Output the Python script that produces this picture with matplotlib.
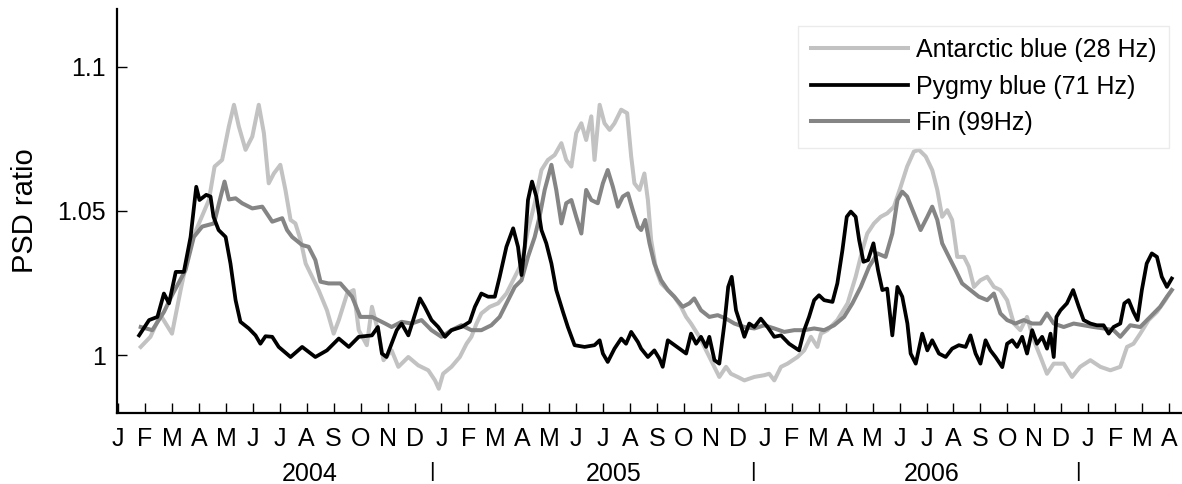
import matplotlib
matplotlib.use("Agg")
import matplotlib.pyplot as plt
from matplotlib.transforms import blended_transform_factory

plt.rcParams['font.family'] = ['Liberation Sans', 'DejaVu Sans']

# x = months since Jan 2004 (0 = Jan 2004 tick)
antarctic_m = [0.84, 1.2, 1.57, 2.0, 2.32, 2.69, 3.0, 3.37, 3.58, 3.86,
               4.11, 4.30, 4.48, 4.73, 4.98, 5.22, 5.41, 5.59, 5.78, 6.02,
               6.21, 6.40, 6.58, 6.77, 6.96, 7.2, 7.44, 7.75, 8.0, 8.19,
               8.5, 8.74, 8.93, 9.23, 9.42, 9.67, 9.85,
               10.15, 10.4, 10.77, 11.14, 11.51, 11.76, 11.9, 12.06, 12.37, 12.68,
               12.93, 13.11, 13.3, 13.48, 13.79, 14.1, 14.41, 14.72, 14.97, 15.21,
               15.46, 15.71, 15.95, 16.2, 16.45, 16.63, 16.82, 17.0, 17.19, 17.37,
               17.56, 17.68, 17.87, 18.05, 18.24, 18.42, 18.67, 18.89, 19.04, 19.16,
               19.35,
               19.53, 19.66, 19.78, 19.97, 20.15, 20.4, 20.64, 20.89, 21.08, 21.26,
               21.57, 21.88, 22.13, 22.31, 22.56, 22.74, 22.99, 23.24, 23.61, 23.98,
               24.16, 24.35, 24.6, 24.84, 25.21, 25.46, 25.71, 25.95, 26.08, 26.32,
               26.69, 27.07, 27.37, 27.62, 27.8, 28.05, 28.3, 28.54, 28.79, 29.04,
               29.28, 29.53, 29.72, 29.97, 30.21, 30.4, 30.58, 30.77, 30.95, 31.14,
               31.39, 31.57, 31.76, 32.0, 32.25, 32.5, 32.74, 32.99, 33.24, 33.48,
               33.73, 33.98, 34.23, 34.47, 34.72, 35.09, 35.4, 35.7, 36.08, 36.45,
               36.82, 37.19, 37.44, 37.68, 37.93, 38.24, 38.55, 38.86, 39.1]
antarctic_v = [1.0029, 1.0064, 1.014, 1.0075, 1.0226, 1.0388, 1.0457, 1.0538, 1.0654, 1.0677,
               1.0793, 1.0868, 1.0793, 1.0712, 1.0758, 1.0868, 1.077, 1.0596, 1.063, 1.066,
               1.0573, 1.0469, 1.0457, 1.040, 1.0318, 1.0272, 1.0226, 1.0156, 1.0075, 1.0122,
               1.0214, 1.0226, 1.0087, 1.0035, 1.0168, 1.0075, 0.9983,
               1.0017, 0.996, 0.9994, 0.9965, 0.9948, 0.9913, 0.9884, 0.9936, 0.996, 0.9994,
               1.004, 1.0064, 1.011, 1.0145, 1.0168, 1.018, 1.0214, 1.0272, 1.0318, 1.0434,
               1.0527, 1.0642, 1.0677, 1.0694, 1.0735, 1.0677, 1.0654, 1.077, 1.0804, 1.0746,
               1.0828, 1.0677, 1.0868, 1.0804, 1.0781, 1.0804, 1.0851, 1.0839, 1.0689, 1.0596,
               1.0573,
               1.063, 1.0538, 1.040, 1.0295, 1.0249, 1.0226, 1.0203, 1.0168, 1.0133, 1.011,
               1.0064, 1.0006, 0.996, 0.9925, 0.996, 0.9936, 0.9925, 0.9913, 0.9925, 0.9931,
               0.9936, 0.9913, 0.996, 0.9971, 0.9994, 1.0017, 1.0064, 1.0029, 1.0075, 1.0087,
               1.0122, 1.018, 1.0272, 1.0365, 1.0422, 1.0457, 1.048, 1.0492, 1.0515, 1.0584,
               1.0654, 1.0706, 1.0712, 1.0689, 1.0642, 1.0573, 1.048, 1.0503, 1.0469, 1.0341,
               1.0341, 1.0307, 1.0237, 1.026, 1.0272, 1.0237, 1.0226, 1.0191, 1.011, 1.0087,
               1.0133, 1.0052, 0.9994, 0.9936, 0.9971, 0.9971, 0.9925, 0.996, 0.9983, 0.996,
               0.9948, 0.996, 1.0029, 1.004, 1.0075, 1.0122, 1.015, 1.0191, 1.0226]

pygmy_m = [0.78, 1.15, 1.46, 1.70, 1.89, 2.14, 2.44, 2.69, 2.90, 3.02,
           3.27, 3.43, 3.54, 3.73, 3.99, 4.17, 4.36, 4.54, 4.85, 5.10,
           5.28, 5.47, 5.72, 5.96, 6.40, 6.83, 7.32, 7.75, 8.19, 8.56,
           8.93, 9.42, 9.64, 9.79,
           9.96, 10.15, 10.34, 10.52, 10.77, 10.95, 11.2, 11.38, 11.63, 11.88,
           12.13, 12.37, 12.74, 13.05, 13.24, 13.48, 13.73, 13.98, 14.16, 14.41,
           14.66, 14.84, 14.97, 15.09, 15.21, 15.36, 15.52, 15.71, 15.89, 16.08,
           16.26, 16.51, 16.69, 16.94, 17.31, 17.68, 17.87, 17.99, 18.17, 18.42,
           18.67, 18.85, 19.04, 19.29,
           19.41, 19.66, 19.9, 20.09, 20.21, 20.4, 20.58, 20.83, 21.08, 21.26,
           21.45, 21.63, 21.82, 21.94, 22.13, 22.31, 22.5, 22.64, 22.77, 22.93,
           23.09, 23.24, 23.42, 23.61, 23.85, 24.1, 24.35, 24.6, 24.9, 25.27,
           25.46, 25.64, 25.83, 26.01, 26.2, 26.51, 26.69, 26.88, 27.04, 27.19,
           27.37, 27.5, 27.66, 27.83, 28.03, 28.2, 28.36, 28.54, 28.73, 28.92,
           29.1, 29.29,
           29.41, 29.6, 29.84, 30.03, 30.21, 30.46, 30.71, 30.95, 31.2, 31.45,
           31.63, 31.82, 32.0, 32.19, 32.37, 32.56, 32.81, 32.99, 33.18, 33.36,
           33.55, 33.73, 33.92, 34.1, 34.29, 34.47, 34.6, 34.72, 34.82, 34.97,
           35.21, 35.44, 35.65, 35.83, 36.08, 36.32, 36.57, 36.76, 36.94, 37.19,
           37.34, 37.5, 37.68, 37.83, 37.99, 38.17, 38.36, 38.55, 38.73, 38.92,
           39.1]
pygmy_v = [1.0069, 1.0122, 1.0133, 1.0214, 1.018, 1.0289, 1.0289, 1.041, 1.0584, 1.0538,
           1.0556, 1.055, 1.048, 1.0434, 1.041, 1.0318, 1.0191, 1.0116, 1.0093, 1.0069,
           1.004, 1.0066, 1.0064, 1.0029, 0.9994, 1.0029, 0.9994, 1.0017, 1.0058, 1.0029,
           1.0064, 1.0069, 1.0098, 1.0006,
           0.9994, 1.004, 1.0087, 1.011, 1.0069, 1.0122, 1.0197, 1.0168, 1.0122, 1.0098,
           1.0064, 1.0087, 1.0098, 1.0116, 1.0168, 1.0214, 1.0203, 1.0203, 1.0272, 1.0376,
           1.044, 1.0376, 1.0278, 1.0376, 1.0538, 1.0602, 1.055, 1.0434, 1.0388, 1.0318,
           1.0226, 1.015, 1.0098, 1.0035, 1.0029, 1.0035, 1.0052, 1.0006, 0.9977, 1.0023,
           1.0058, 1.004, 1.0081, 1.0046,
           1.0023, 0.9994, 1.0017, 0.9988, 0.996, 1.0052, 1.004, 1.0023, 1.0006, 1.0075,
           1.004, 1.0064, 1.0029, 1.0064, 0.9983, 0.9971, 1.011, 1.0237, 1.0272, 1.0156,
           1.011, 1.0064, 1.011, 1.0098, 1.0127, 1.0098, 1.0064, 1.0069, 1.004, 1.0017,
           1.0087, 1.0133, 1.0191, 1.0208, 1.0191, 1.0185, 1.0249, 1.0365, 1.048, 1.0498,
           1.048, 1.0399, 1.0324, 1.033, 1.0388, 1.0295, 1.0226, 1.0231, 1.0069, 1.0237,
           1.0203, 1.011,
           1.0006, 0.9971, 1.0075, 1.0017, 1.0052, 1.0006, 0.9994, 1.0023, 1.0035, 1.0029,
           1.0069, 1.0006, 0.9971, 1.0052, 1.0017, 0.9994, 0.9959, 1.004, 1.0052, 1.0029,
           1.0064, 1.0006, 1.0087, 1.004, 1.0064, 1.0023, 1.0075, 0.9994, 1.0133, 1.0156,
           1.018, 1.0226, 1.0168, 1.0122, 1.011, 1.0104, 1.0104, 1.0075, 1.0098, 1.011,
           1.018, 1.0191, 1.015, 1.0122, 1.0226, 1.0318, 1.0353, 1.0341, 1.0272, 1.0237,
           1.0266]

fin_m = [0.84, 1.27, 1.70, 2.0, 2.5, 2.81, 3.12, 3.56, 3.78, 3.95,
         4.11, 4.36, 4.6, 4.98, 5.35, 5.72, 6.09, 6.27, 6.46, 6.83,
         7.07, 7.32, 7.51, 7.81, 8.25, 8.68, 8.99, 9.42, 9.91,
         10.15, 10.52, 10.89, 11.26, 11.63, 12.0, 12.37, 12.74, 13.11, 13.48,
         13.85, 14.16, 14.47, 14.72, 14.97, 15.21, 15.46, 15.64, 15.83, 16.08,
         16.26, 16.45, 16.63, 16.82, 17.0, 17.19, 17.37, 17.56, 17.8, 17.99,
         18.17, 18.36, 18.55, 18.73, 18.92, 19.1, 19.29,
         19.41, 19.56, 19.72, 19.9, 20.15, 20.4, 20.64, 20.95, 21.2, 21.38,
         21.63, 21.94, 22.25, 22.56, 22.87, 23.24, 23.61, 23.98, 24.35, 24.72,
         25.09, 25.46, 25.83, 26.2, 26.57, 26.94, 27.25, 27.56, 27.87, 28.18,
         28.48, 28.73, 28.92, 29.1,
         29.28, 29.53, 29.78, 30.03, 30.21, 30.4, 30.58, 30.83, 31.08, 31.32,
         31.63, 31.94, 32.25, 32.5, 32.74, 32.99, 33.3, 33.61, 33.92, 34.23,
         34.47, 34.72, 35.09, 35.46, 35.83, 36.2, 36.57, 36.94, 37.19, 37.56,
         37.93, 38.3, 38.67, 38.92, 39.1]
fin_v = [1.0098, 1.0087, 1.015, 1.0208, 1.0295, 1.041, 1.0446, 1.0457, 1.054, 1.0602,
         1.054, 1.0544, 1.0527, 1.0509, 1.0515, 1.0463, 1.0475, 1.0434, 1.041, 1.0382,
         1.0376, 1.033, 1.0255, 1.0249, 1.0249, 1.0203, 1.0133, 1.0133, 1.011,
         1.0098, 1.0116, 1.011, 1.0122, 1.0087, 1.0064, 1.0087, 1.0104, 1.0087, 1.0087,
         1.0104, 1.0133, 1.0191, 1.0237, 1.026, 1.0341, 1.041, 1.048, 1.0573, 1.066,
         1.0573, 1.0457, 1.0527, 1.0538, 1.048, 1.0422, 1.0573, 1.0538, 1.0527, 1.0596,
         1.0642, 1.0584, 1.0515, 1.055, 1.0561, 1.0503, 1.0446,
         1.0434, 1.0469, 1.0388, 1.0318, 1.026, 1.0226, 1.0203, 1.0168, 1.018, 1.0197,
         1.0156, 1.0133, 1.0139, 1.0127, 1.011, 1.0098, 1.0093, 1.0104, 1.0093, 1.0081,
         1.0087, 1.0087, 1.0093, 1.0087, 1.0104, 1.0133, 1.018, 1.0237, 1.0307, 1.0353,
         1.0341, 1.0422, 1.0538, 1.0567,
         1.055, 1.0492, 1.0434, 1.048, 1.0515, 1.0469, 1.0388, 1.0341, 1.0295, 1.0249,
         1.0226, 1.0203, 1.0191, 1.0214, 1.0145, 1.0122, 1.011, 1.0122, 1.011, 1.011,
         1.0145, 1.011, 1.0098, 1.011, 1.0104, 1.0098, 1.0093, 1.0087, 1.0064, 1.0104,
         1.0098, 1.0133, 1.0168, 1.0203, 1.0226]

month_letters = ["J", "F", "M", "A", "M", "J", "J", "A", "S", "O", "N", "D"] * 3 + ["J", "F", "M", "A"]
years = ["2004", "2005", "2006"]
year_pos = [7.1, 18.4, 30.2]
sep_pos = [11.63, 23.55, 35.6]

fig = plt.figure(figsize=(11.82, 4.84), dpi=100)
ax = fig.add_axes([0.099, 0.1467, 0.901, 0.8347])

l_ant, = ax.plot(antarctic_m, antarctic_v, color="#c2c2c2", lw=2.9, label="Antarctic blue (28 Hz)")
l_fin, = ax.plot(fin_m, fin_v, color="#858585", lw=2.9, label="Fin (99Hz)")
l_pyg, = ax.plot(pygmy_m, pygmy_v, color="black", lw=2.7, label="Pygmy blue (71 Hz)")

ax.set_xlim(-0.04, 39.48)
ax.set_ylim(0.98, 1.12)

ax.spines["top"].set_visible(False)
ax.spines["right"].set_visible(False)
ax.spines["left"].set_linewidth(1.6)
ax.spines["bottom"].set_linewidth(1.6)

ax.set_yticks([1.0, 1.05, 1.1])
ax.set_yticklabels(["1", "1.05", "1.1"])
ax.set_xticks(range(len(month_letters)))
ax.set_xticklabels(month_letters, family=["Liberation Sans Narrow", "Liberation Sans"], fontsize=18)
ax.tick_params(axis="y", direction="in", length=7, width=1, labelsize=18, pad=8)
ax.tick_params(axis="x", direction="in", length=7, width=1, pad=10)

ax.set_ylabel("PSD ratio", fontsize=21)
ax.yaxis.set_label_coords(-0.073, 0.5)

trans = blended_transform_factory(ax.transData, ax.transAxes)
for yr, xp in zip(years, year_pos):
    ax.text(xp, -0.15, yr, transform=trans, ha="center", va="center", fontsize=18,
            family=["Liberation Sans Narrow", "Liberation Sans"])
# year separators
for xp in sep_pos:
    ax.text(xp, -0.145, "|", transform=trans, ha="center", va="center", fontsize=15)

leg = ax.legend(handles=[l_ant, l_pyg, l_fin], loc="upper right",
                bbox_to_anchor=(0.989, 0.947), bbox_transform=fig.transFigure,
                fontsize=18, frameon=True, fancybox=False, handlelength=3.9,
                handletextpad=0.3, labelspacing=0.5, borderpad=0.5, borderaxespad=0)
leg.get_frame().set_edgecolor("#e6e6e6")
leg.get_frame().set_linewidth(1)

fig.savefig("out.png", dpi=100)
